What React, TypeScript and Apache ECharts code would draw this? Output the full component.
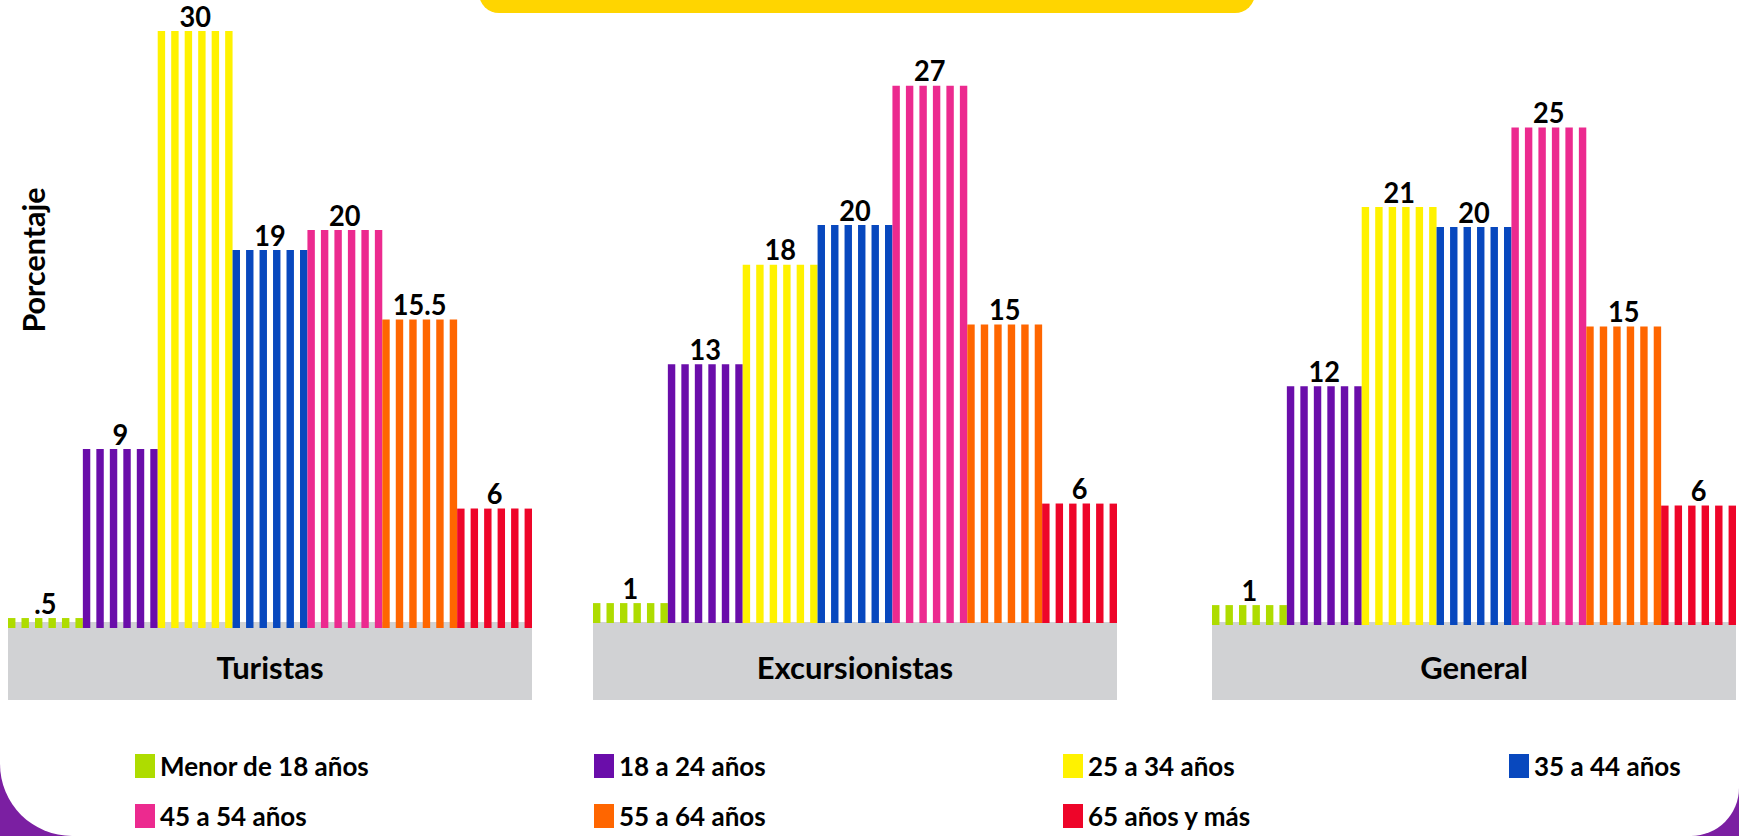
import React, { useEffect, useRef } from "react";
import * as echarts from "echarts";

const panels = ["Turistas", "Excursionistas", "General"];
const groups = [
  "Menor de 18 años",
  "18 a 24 años",
  "25 a 34 años",
  "35 a 44 años",
  "45 a 54 años",
  "55 a 64 años",
  "65 años y más",
];
const colors = ["#AEDC00", "#6A0DAA", "#FFF200", "#0848BE", "#EC2A8F", "#FF6600", "#EE0529"];
const turistas = [0.5, 9, 30, 19, 20, 15.5, 6];
const excursionistas = [1, 13, 18, 20, 27, 15, 6];
const general = [1, 12, 21, 20, 25, 15, 6];
const panelValues = [turistas, excursionistas, general];
const yMax = 30;

const legendColumns = [
  ["Menor de 18 años", "45 a 54 años"],
  ["18 a 24 años", "55 a 64 años"],
  ["25 a 34 años", "65 años y más"],
  ["35 a 44 años"],
];

const FONT = "Lato";
const STRIPES = 6;
const STRIPE_RATIO = 0.55;

const fmt = (v: number) => (v < 1 ? String(v).replace(/^0/, "") : String(v));

const makeRender = (color: string) => (params: any, api: any) => {
  const cat = api.value(0);
  const val = api.value(1);
  const top = api.coord([cat, val]);
  const base = api.coord([cat, 0]);
  const bw = api.size([1, 0])[0];
  const x0 = top[0] - bw / 2;
  const period = bw / (STRIPES - 1 + STRIPE_RATIO);
  const sw = period * STRIPE_RATIO;
  const children: any[] = [];
  for (let i = 0; i < STRIPES; i++) {
    children.push({
      type: "rect",
      shape: { x: x0 + i * period, y: top[1], width: sw, height: base[1] - top[1] },
      style: { fill: color },
    });
  }
  children.push({
    type: "text",
    x: top[0],
    y: top[1] - 1,
    scaleX: 0.97,
    style: {
      text: fmt(val),
      x: 0,
      y: 0,
      textAlign: "center",
      textVerticalAlign: "bottom",
      align: "center",
      verticalAlign: "bottom",
      fill: "#000",
      fontFamily: FONT,
      fontWeight: "bold",
      fontSize: 28,
      lineHeight: 28,
    },
  });
  return { type: "group", children };
};

export default function App() {
  const ref = useRef<HTMLDivElement>(null);
  useEffect(() => {
    if (!ref.current) return;
    const chart = echarts.init(ref.current, undefined, { renderer: "svg" });

    const gridDefs = [
      { left: 8, top: 31, width: 524, height: 597 },
      { left: 593, top: 26, width: 524, height: 597 },
      { left: 1212, top: 28, width: 524, height: 597 },
    ];
    const boxTop = 628;

    const series: any[] = [];
    panels.forEach((_, pi) => {
      groups.forEach((g, gi) => {
        series.push({
          type: "custom",
          name: g,
          xAxisIndex: pi,
          yAxisIndex: pi,
          itemStyle: { color: colors[gi] },
          encode: { x: 0, y: 1 },
          data: [[gi, panelValues[pi][gi]]],
          renderItem: makeRender(colors[gi]),
          silent: true,
        });
      });
    });

    const legendLefts = [135, 594, 1063, 1509];

    chart.setOption({
      animation: false,
      backgroundColor: "#ffffff",
      textStyle: { fontFamily: FONT },
      grid: gridDefs,
      xAxis: gridDefs.map((gd, pi) => ({
        type: "category",
        gridIndex: pi,
        data: groups,
        boundaryGap: true,
        axisLine: { show: false },
        axisTick: { show: false },
        axisLabel: { show: false },
        splitLine: { show: false },
        name: `{box|${panels[pi]}}`,
        nameLocation: "middle",
        nameGap: boxTop - (gd.top + gd.height),
        nameTextStyle: {
          rich: {
            box: {
              fontFamily: FONT,
              fontWeight: "bold",
              fontSize: 31,
              color: "#000",
              backgroundColor: "#D1D2D4",
              width: gd.width,
              height: 66,
              lineHeight: 66,
              padding: [12, 0, 0, 0],
              align: "center",
              verticalAlign: "middle",
            },
          },
        },
      })),
      yAxis: gridDefs.map((_, pi) => ({
        type: "value",
        gridIndex: pi,
        min: 0,
        max: yMax,
        show: false,
      })),
      legend: legendColumns.map((col, ci) => ({
        data: col,
        orient: "vertical",
        left: legendLefts[ci],
        top: 751,
        icon: "rect",
        itemWidth: 20,
        itemHeight: 24,
        itemGap: 20,
        selectedMode: false,
        padding: 0,
        textStyle: {
          fontFamily: FONT,
          fontWeight: "bold",
          fontSize: 26,
          lineHeight: 30,
          color: "#000",
        },
      })),
      graphic: {
        elements: [
          { type: "rect", z: -20, shape: { x: 0, y: 700, width: 120, height: 136 }, style: { fill: "#7B1FA2" } },
          { type: "rect", z: -20, shape: { x: 1619, y: 700, width: 120, height: 136 }, style: { fill: "#7B1FA2" } },
          {
            type: "rect",
            z: -19,
            shape: { x: 0, y: 0, width: 1739, height: 836, r: [0, 0, 48, 72] },
            style: { fill: "#ffffff" },
          },
          {
            type: "rect",
            z: -18,
            shape: { x: 479, y: -40, width: 776, height: 53, r: 20 },
            style: { fill: "#FFD500" },
          },
          {
            type: "text",
            x: 33,
            y: 260,
            rotation: Math.PI / 2,
            style: {
              text: "Porcentaje",
              x: 0,
              y: 0,
              textAlign: "center",
              textVerticalAlign: "middle",
              fill: "#000",
              fontFamily: FONT,
              fontWeight: "bold",
              fontSize: 30.5,
            },
          },
        ],
      },
      series,
    });

    return () => chart.dispose();
  }, []);

  return (
    <div
      ref={ref}
      style={{ position: "fixed", left: 0, top: 0, width: 1739, height: 836 }}
    />
  );
}
